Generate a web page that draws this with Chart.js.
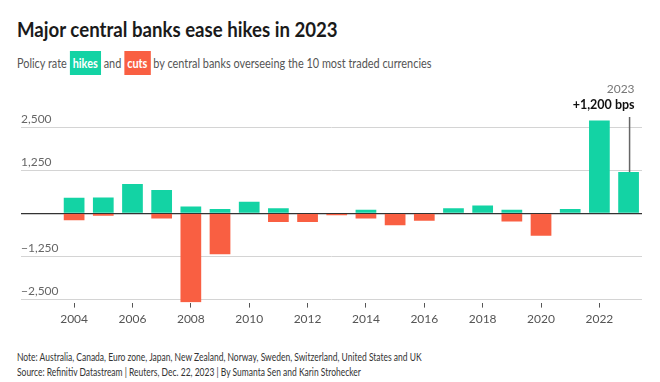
<!DOCTYPE html>
<html>
<head>
<meta charset="utf-8">
<script src="https://cdn.jsdelivr.net/npm/chart.js@4/dist/chart.umd.min.js"></script>
<style>
  html, body { margin: 0; padding: 0; background: #fff; }
  body { width: 660px; height: 382px; position: relative; overflow: hidden; font-family: Lato, "Open Sans", sans-serif; }
  #title { position: absolute; left: 17px; top: 16px; font-size: 21.5px; font-weight: 700; color: #1a1a1a; white-space: nowrap; transform: scaleX(0.867); transform-origin: 0 0; }
  #subtitle { position: absolute; left: 17px; top: 51px; font-size: 14px; font-weight: 400; color: #555; white-space: nowrap; line-height: 24px; transform: scaleX(0.778); transform-origin: 0 0; }
  .hl { display: inline-block; color: #fff; font-weight: 700; padding: 0 4px; line-height: 24px; }
  .hk { background: #13d3a4; }
  .ct { background: #f95f42; }
  #wrap { position: absolute; left: 0; top: 80px; width: 660px; height: 250px; }
  .foot { position: absolute; left: 17px; font-size: 11.5px; color: #333; white-space: nowrap; transform: scaleX(0.738); transform-origin: 0 0; }
</style>
</head>
<body>
<div id="title">Major central banks ease hikes in 2023</div>
<div id="subtitle">Policy rate <span class="hl hk">hikes</span> and <span class="hl ct">cuts</span> by central banks overseeing the 10 most traded currencies</div>
<div id="wrap"><canvas id="c"></canvas></div>
<div class="foot" style="top:350px">Note: Australia, Canada, Euro zone, Japan, New Zealand, Norway, Sweden, Switzerland, United States and UK</div>
<div class="foot" style="top:365px">Source: Refinitiv Datastream | Reuters, Dec. 22, 2023 | By Sumanta Sen and Karin Strohecker</div>
<script>
const years = [2004,2005,2006,2007,2008,2009,2010,2011,2012,2013,2014,2015,2016,2017,2018,2019,2020,2021,2022,2023];
const hikes = [450,460,850,675,200,125,340,150,0,0,100,0,0,150,230,100,0,125,2700,1200];
const cuts  = [-200,-70,0,-150,-2590,-1190,0,-250,-250,-60,-150,-350,-220,0,0,-240,-650,0,0,0];
const xTickYears = [2004,2006,2008,2010,2012,2014,2016,2018,2020,2022];
const yTicks = [-2500,-1250,0,1250,2500];
const annoYear = 2023;
const annoValue = 1200;
const annoLabel = "+1,200 bps";

const annotate = {
  id: 'annotate',
  afterDatasetsDraw(chart) {
    const {ctx, scales} = chart;
    const x = scales.x.getPixelForValue(annoYear);
    const yTop = scales.y.getPixelForValue(annoValue);
    ctx.save();
    ctx.strokeStyle = '#666';
    ctx.lineWidth = 1.5;
    ctx.beginPath();
    ctx.moveTo(x + 1, chart.chartArea.top - 1);
    ctx.lineTo(x + 1, yTop);
    ctx.stroke();
    ctx.textAlign = 'right';
    ctx.textBaseline = 'middle';
    ctx.fillStyle = '#777';
    ctx.font = '400 12px Lato, sans-serif';
    ctx.fillText(String(annoYear), x + 6, chart.chartArea.top - 29);
    ctx.fillStyle = '#111';
    ctx.font = '700 12.5px Lato, sans-serif';
    ctx.fillText(annoLabel, x + 6, chart.chartArea.top - 13);
    ctx.restore();
  }
};

new Chart(document.getElementById('c'), {
  type: 'bar',
  data: {
    datasets: [
      { label: 'hikes', data: years.map((y, i) => ({x: y, y: hikes[i]})), backgroundColor: '#13d3a4' },
      { label: 'cuts', data: years.map((y, i) => ({x: y, y: cuts[i]})), backgroundColor: '#f95f42' }
    ]
  },
  options: {
    responsive: true,
    maintainAspectRatio: false,
    animation: false,
    barPercentage: 0.71,
    categoryPercentage: 1,
    layout: { padding: { left: 21, right: 18, top: 38, bottom: 0 } },
    plugins: { legend: { display: false }, tooltip: { enabled: false } },
    scales: {
      x: {
        type: 'linear',
        offset: false,
        stacked: true,
        min: 2002.18,
        max: 2023.46,
        afterBuildTicks: s => { s.ticks = xTickYears.map(v => ({value: v})); },
        ticks: { callback: v => String(v), color: '#555', font: { family: 'Lato', size: 12 }, padding: 4, maxRotation: 0, autoSkip: false },
        grid: { offset: false, drawOnChartArea: false, drawTicks: true, tickLength: 5, color: '#555', tickWidth: 1 },
        border: { display: false }
      },
      y: {
        stacked: true,
        min: -2600,
        max: 2775,
        afterBuildTicks: s => { s.ticks = yTicks.map(v => ({value: v})); },
        ticks: {
          mirror: true,
          padding: 0,
          labelOffset: -8,
          color: '#666',
          font: { family: 'Lato', size: 12 },
          callback: v => v === 0 ? '' : v.toLocaleString('en-US').replace('-', '\u2212')
        },
        grid: {
          drawTicks: false,
          color: c => c.tick && c.tick.value === 0 ? '#333' : '#d4d4d4',
          lineWidth: c => c.tick && c.tick.value === 0 ? 1.3 : 1
        },
        border: { display: false }
      }
    }
  },
  plugins: [annotate]
});
</script>
</body>
</html>
